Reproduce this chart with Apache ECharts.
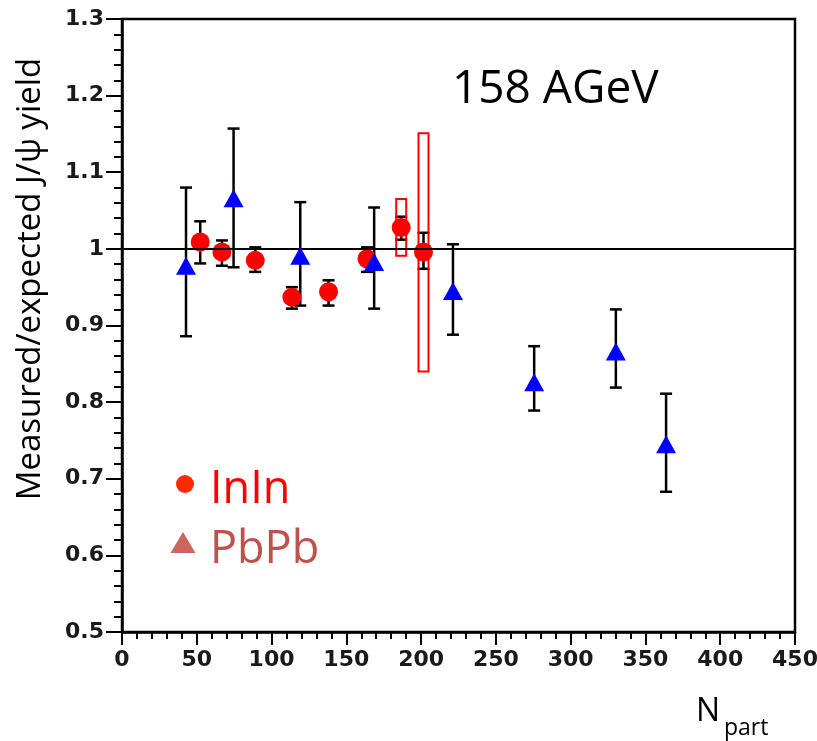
<!DOCTYPE html>
<html>
<head>
<meta charset="utf-8">
<script src="https://cdn.jsdelivr.net/npm/echarts@6/dist/echarts.min.js"></script>
<style>
  html, body { margin: 0; padding: 0; background: #fff; }
  #chart { width: 817px; height: 741px; }
</style>
</head>
<body>
<div id="chart"></div>
<script>
// InIn points (red circles)
const inX  = [52.3, 66.8, 89.1, 113.6, 138.1, 163.8, 186.7, 201.6]
const inY  = [1.009, 0.996, 0.985, 0.937, 0.944, 0.987, 1.028, 0.996]
const inLo = [0.981, 0.978, 0.970, 0.922, 0.926, 0.970, 1.012, 0.974]
const inHi = [1.036, 1.011, 1.002, 0.950, 0.959, 1.002, 1.042, 1.021]

// InIn systematic boxes
const sysX  = [186.7, 201.6]
const sysLo = [0.991, 0.840]
const sysHi = [1.065, 1.151]

// PbPb points (blue triangles)
const pbX  = [42.8, 74.6, 119.2, 168.6, 221.3, 275.6, 330.2, 363.8]
const pbY  = [0.978, 1.066, 0.991, 0.983, 0.945, 0.826, 0.866, 0.745]
const pbLo = [0.886, 0.976, 0.926, 0.922, 0.888, 0.789, 0.819, 0.683]
const pbHi = [1.080, 1.157, 1.061, 1.054, 1.006, 0.873, 0.921, 0.811]

const xTicks = [0, 450, 50]
const yTicks = [0.5, 1.3, 0.1]

const chart = echarts.init(document.getElementById('chart'))

const labelFont = {
  fontFamily: 'DejaVu Sans',
  fontWeight: 'bold',
  fontSize: 22,
  color: '#1a1a1a'
}

function errorBar(params, api) {
  const x = api.value(0)
  const top = api.coord([x, api.value(2)])
  const bot = api.coord([x, api.value(1)])
  const cap = 6
  const style = { stroke: '#000', lineWidth: 2.5 }
  return {
    type: 'group',
    children: [
      { type: 'line', shape: { x1: top[0], y1: top[1], x2: bot[0], y2: bot[1] }, style },
      { type: 'line', shape: { x1: top[0] - cap, y1: top[1], x2: top[0] + cap, y2: top[1] }, style },
      { type: 'line', shape: { x1: bot[0] - cap, y1: bot[1], x2: bot[0] + cap, y2: bot[1] }, style }
    ]
  }
}

function sysBox(params, api) {
  const x = api.value(0)
  const top = api.coord([x, api.value(2)])
  const bot = api.coord([x, api.value(1)])
  const hw = 5
  return {
    type: 'rect',
    shape: { x: top[0] - hw, y: top[1], width: 2 * hw, height: bot[1] - top[1] },
    style: { fill: 'none', stroke: '#ff0000', lineWidth: 2 }
  }
}

const option = {
  animation: false,
  grid: {
    left: 122, top: 19, width: 673, height: 613,
    outerBoundsMode: 'none',
    containLabel: false,
    show: true, borderColor: '#000', borderWidth: 2.5, backgroundColor: '#fff'
  },
  xAxis: {
    type: 'value',
    min: xTicks[0], max: xTicks[1], interval: xTicks[2],
    axisLine: { lineStyle: { color: '#000', width: 2.5 } },
    axisTick: { length: 13, lineStyle: { color: '#000', width: 2 } },
    minorTick: { show: true, splitNumber: 5, length: 7, lineStyle: { color: '#000', width: 2 } },
    splitLine: { show: false },
    axisLabel: Object.assign({ margin: 17 }, labelFont)
  },
  yAxis: {
    type: 'value',
    min: yTicks[0], max: yTicks[1], interval: yTicks[2],
    axisLine: { lineStyle: { color: '#000', width: 2.5 } },
    axisTick: { length: 16, lineStyle: { color: '#000', width: 2 } },
    minorTick: { show: true, splitNumber: 5, length: 8, lineStyle: { color: '#000', width: 2 } },
    splitLine: { show: false },
    axisLabel: Object.assign({ margin: 18 }, labelFont)
  },
  series: [
    {
      type: 'custom',
      renderItem: errorBar,
      data: inX.map((x, i) => [x, inLo[i], inHi[i]]).concat(pbX.map((x, i) => [x, pbLo[i], pbHi[i]])),
      z: 2,
      markLine: {
        silent: true,
        symbol: 'none',
        label: { show: false },
        lineStyle: { color: '#000', width: 2, type: 'solid' },
        data: [{ yAxis: 1 }]
      }
    },
    {
      type: 'custom',
      renderItem: sysBox,
      data: sysX.map((x, i) => [x, sysLo[i], sysHi[i]]),
      z: 3
    },
    {
      name: 'InIn',
      type: 'scatter',
      symbol: 'circle',
      symbolSize: 19,
      itemStyle: { color: '#ff0000', opacity: 1 },
      data: inX.map((x, i) => [x, inY[i]]),
      z: 4
    },
    {
      name: 'PbPb',
      type: 'scatter',
      symbol: 'triangle',
      symbolSize: [20, 18],
      itemStyle: { color: '#0000ff', opacity: 1 },
      data: pbX.map((x, i) => [x, pbY[i]]),
      z: 5
    }
  ],
  graphic: [
    {
      type: 'text', x: 31, y: 279, rotation: Math.PI / 2,
      style: {
        text: 'Measured/expected J/ψ yield', fill: '#000',
        font: '33px "Open Sans"', align: 'center', verticalAlign: 'middle'
      }
    },
    {
      type: 'text', x: 452, y: 90,
      style: { text: '158 AGeV', fill: '#000', font: '46px "Open Sans"', align: 'left', verticalAlign: 'middle' }
    },
    {
      type: 'text', x: 696, y: 712,
      style: { text: 'N', fill: '#000', font: '32px "Open Sans"', align: 'left', verticalAlign: 'middle' }
    },
    {
      type: 'text', x: 724, y: 728,
      style: { text: 'part', fill: '#000', font: '23px "Open Sans"', align: 'left', verticalAlign: 'middle' }
    },
    { type: 'circle', shape: { cx: 185, cy: 484, r: 9 }, style: { fill: '#ff2a00' } },
    {
      type: 'text', x: 210, y: 490,
      style: { text: 'InIn', fill: '#ff0000', font: '45px "Open Sans"', align: 'left', verticalAlign: 'middle' }
    },
    {
      type: 'polygon',
      shape: { points: [[183, 532], [170.5, 553], [195.5, 553]] },
      style: { fill: '#cd655c' }
    },
    {
      type: 'text', x: 210, y: 550,
      style: { text: 'PbPb', fill: '#c0504d', font: '45px "Open Sans"', align: 'left', verticalAlign: 'middle' }
    }
  ]
}

chart.setOption(option)
</script>
</body>
</html>
